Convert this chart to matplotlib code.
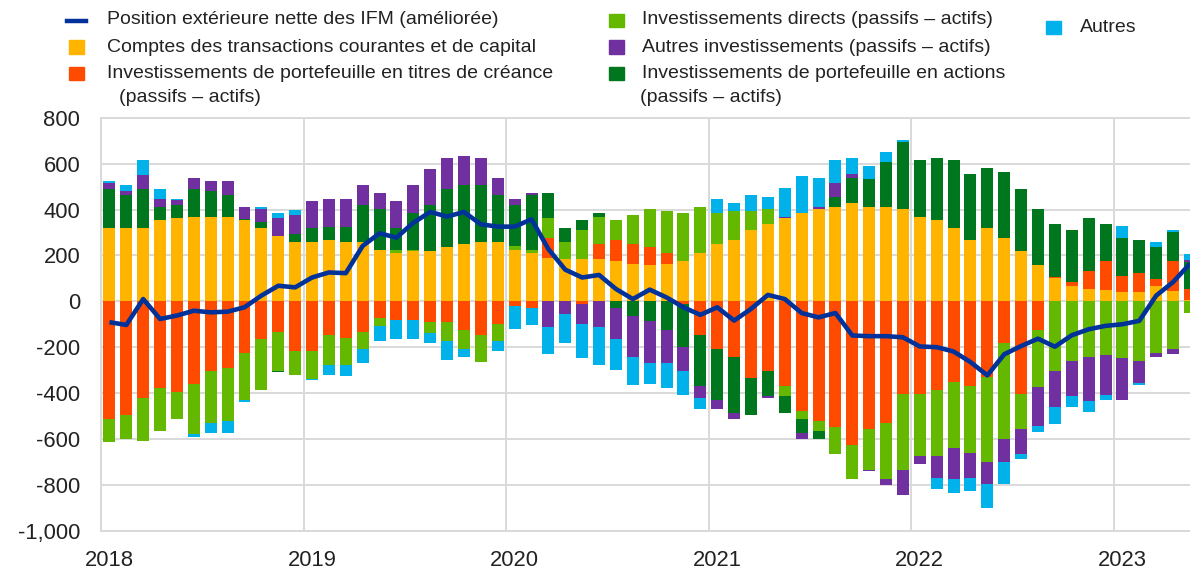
import numpy as np
import matplotlib
matplotlib.use("Agg")
import matplotlib.pyplot as plt
from matplotlib import font_manager
from matplotlib.patches import Rectangle
from matplotlib.lines import Line2D
from matplotlib.ticker import FuncFormatter

# Monthly data, Jan 2018 - May 2023 (EUR billions)
years = ["2018", "2019", "2020", "2021", "2022", "2023"]

current_account = [
    319, 319, 319, 354, 362, 370, 370, 370, 354, 319, 286, 261,
    261, 268, 261, 261, 225, 210, 218, 218, 235, 252, 261, 261,
    225, 210, 191, 184, 184, 184, 174, 165, 158, 165, 174, 209,
    252, 268, 310, 336, 362, 387, 405, 412, 428, 412, 412, 405,
    370, 354, 319, 268, 319, 276, 218, 160, 101, 66, 54, 50,
    40, 40, 66, 47, 5,
]
debt_portfolio = [
    -515, -497, -422, -378, -396, -361, -302, -291, -226, -164, -132, -216,
    -216, -149, -158, -132, -71, -80, -80, -91, -91, -123, -149, -99,
    -19, -29, 87, 0, -12, 68, 94, 87, 77, 44, -12, -149,
    -207, -241, -335, -302, -370, -480, -523, -548, -625, -558, -531, -403,
    -403, -389, -352, -370, -331, -183, -403, -126, 7, 18, 79, 126,
    69, 85, 32, 129, 50,
]
direct_inv = [
    -98, -102, -186, -186, -116, -220, -229, -232, -206, -222, -170, -107,
    -122, -128, -119, -75, -35, 15, 7, -47, -83, -84, -116, -75,
    17, 15, 85, 77, 126, 118, 86, 126, 170, 185, 213, 203,
    135, 126, 84, 69, -43, -35, -43, -119, -151, -176, -246, -331,
    -273, -287, -290, -290, -369, -416, -155, -248, -305, -261, -243, -236,
    -246, -261, -227, -210, -50,
]
equity_portfolio = [
    170, 145, 170, 58, 58, 119, 111, 94, 7, 25, -7, 32,
    58, 58, 65, 159, 180, 94, 162, 202, 254, 254, 245, 203,
    179, 239, 108, 58, 44, 17, -29, -62, -88, -123, -188, -221,
    -222, -246, -159, -111, -73, -59, -33, 43, 111, 120, 196, 290,
    246, 270, 297, 289, 264, 290, 271, 245, 228, 226, 229, 160,
    169, 143, 140, 127, 115,
]
other_inv = [
    26, 17, 61, 36, 21, 50, 44, 61, 51, 61, 77, 85,
    119, 122, 122, 86, 66, 119, 119, 156, 135, 128, 118, 75,
    27, 10, -113, -55, -87, -113, -135, -182, -180, -145, -102, -50,
    -39, -25, 0, -7, 8, -25, 7, 60, 18, -7, -25, -111,
    -33, -94, -135, -110, -95, -101, -109, -170, -154, -154, -190, -174,
    -186, -95, -16, -18, 10,
]
others = [
    10, 25, 66, 41, 7, -11, -42, -50, -7, 7, 24, 19,
    -7, -43, -49, -61, -68, -84, -84, -43, -84, -37, 0, -41,
    -101, -74, -119, -126, -149, -163, -135, -123, -92, -109, -108, -48,
    58, 34, 69, 50, 126, 160, 127, 101, 67, 58, 43, 7,
    0, -51, -58, -58, -108, -95, -23, -26, -76, -44, -50, -22,
    51, -7, 23, 9, 25,
]
net_position = [
    -91, -103, 10, -77, -62, -41, -48, -45, -26, 25, 68, 61,
    104, 126, 123, 242, 297, 278, 343, 390, 370, 390, 336, 326,
    326, 358, 228, 138, 104, 115, 54, 10, 51, 17, -26, -59,
    -26, -84, -33, 28, 10, -51, -70, -51, -149, -152, -152, -157,
    -197, -200, -219, -265, -323, -231, -195, -163, -198, -148, -122, -107,
    -100, -85, 25, 84, 164,
]

labels = {
    "line": "Position extérieure nette des IFM (améliorée)",
    "ca": "Comptes des transactions courantes et de capital",
    "debt": "Investissements de portefeuille en titres de créance",
    "direct": "Investissements directs (passifs – actifs)",
    "other": "Autres investissements (passifs – actifs)",
    "equity": "Investissements de portefeuille en actions",
    "others": "Autres",
}

BLUE = "#003299"
YELLOW = "#FFB400"
ORANGE = "#FF4B00"
LGREEN = "#65B800"
DGREEN = "#00771E"
PURPLE = "#7030A0"
CYAN = "#00B1EA"
GRID = "#d9d9d9"
TXT = "#222222"


def pick_font(fams):
    for f in fams:
        try:
            font_manager.findfont(f, fallback_to_default=False)
            return f
        except ValueError:
            pass
    return "DejaVu Sans"


tick_font = pick_font(["Liberation Sans", "Arial"])
leg_font = tick_font
leg_size = 14.0

W, H = 1190, 569
fig = plt.figure(figsize=(W / 100, H / 100), dpi=100)
ax_l, ax_r, ax_t, ax_b = 101, 1190, 118, 530.5
ax = fig.add_axes([ax_l / W, 1 - ax_b / H, (ax_r - ax_l) / W, (ax_b - ax_t) / H])

n = len(net_position)
x = np.arange(n) + 0.5
bar_w = 0.71

series = [
    (current_account, YELLOW),
    (debt_portfolio, ORANGE),
    (direct_inv, LGREEN),
    (equity_portfolio, DGREEN),
    (other_inv, PURPLE),
    (others, CYAN),
]
pos_base = np.zeros(n)
neg_base = np.zeros(n)
for vals, col in series:
    v = np.asarray(vals, dtype=float)
    pos = np.where(v > 0, v, 0)
    neg = np.where(v < 0, v, 0)
    ax.bar(x, pos, bar_w, bottom=pos_base, color=col, linewidth=0, zorder=2)
    ax.bar(x, neg, bar_w, bottom=neg_base, color=col, linewidth=0, zorder=2)
    pos_base += pos
    neg_base += neg

ax.plot(x, net_position, color=BLUE, lw=3.3, zorder=4, solid_capstyle="butt")

# axes, grid
ax.set_xlim(0, (ax_r - ax_l) / 16.883)
ax.set_ylim(-1000, 800)
ax.set_yticks(np.arange(-1000, 801, 200))
ax.yaxis.set_major_formatter(FuncFormatter(lambda v, p: f"{v:,.0f}"))
ax.set_xticks(np.arange(0, n, 12))
ax.set_xticklabels([])
ax.set_xticks(np.arange(0, n, 12) + 0.5, minor=True)
ax.set_xticklabels(years, minor=True)
ax.grid(True, which="major", color=GRID, lw=1.4, zorder=0)
ax.set_axisbelow(True)
ax.tick_params(which="both", length=0)
ax.tick_params(axis="y", pad=15, labelsize=15.8, labelcolor=TXT)
ax.tick_params(axis="x", which="minor", pad=14, labelsize=15.8, labelcolor=TXT)
for lab in ax.get_yticklabels() + ax.get_xticklabels(minor=True):
    lab.set_fontfamily(tick_font)
for side in ["left", "top", "bottom"]:
    ax.spines[side].set_color(GRID)
    ax.spines[side].set_linewidth(1.4)
ax.spines["right"].set_visible(False)

# legend, drawn in pixel positions of the figure
def fx(px):
    return px / W


def fy(py):
    return 1 - py / H


def leg_patch(x0, yc, color):
    fig.patches.append(Rectangle((fx(x0), fy(yc + 6.5)), 15 / W, 13 / H,
                                 transform=fig.transFigure, color=color))


def leg_text(x0, yc, s):
    fig.text(fx(x0), fy(yc), s, ha="left", va="center", fontsize=leg_size,
             family=leg_font, color=TXT)


fig.lines.append(Line2D([fx(67), fx(86)], [fy(21), fy(21)], color=BLUE, lw=3.2,
                        transform=fig.transFigure))
leg_text(107, 20, labels["line"])
leg_patch(69, 47, YELLOW)
leg_text(107, 47, labels["ca"])
leg_patch(69, 73, ORANGE)
leg_text(107, 73, labels["debt"])
leg_text(119, 97, "(passifs – actifs)")

leg_patch(609, 20, LGREEN)
leg_text(642, 20, labels["direct"])
leg_patch(609, 47, PURPLE)
leg_text(642, 47, labels["other"])
leg_patch(609, 73, DGREEN)
leg_text(642, 73, labels["equity"])
leg_text(640, 97, "(passifs – actifs)")

leg_patch(1046, 27, CYAN)
leg_text(1080, 27, labels["others"])

fig.savefig("out.png", dpi=100)
